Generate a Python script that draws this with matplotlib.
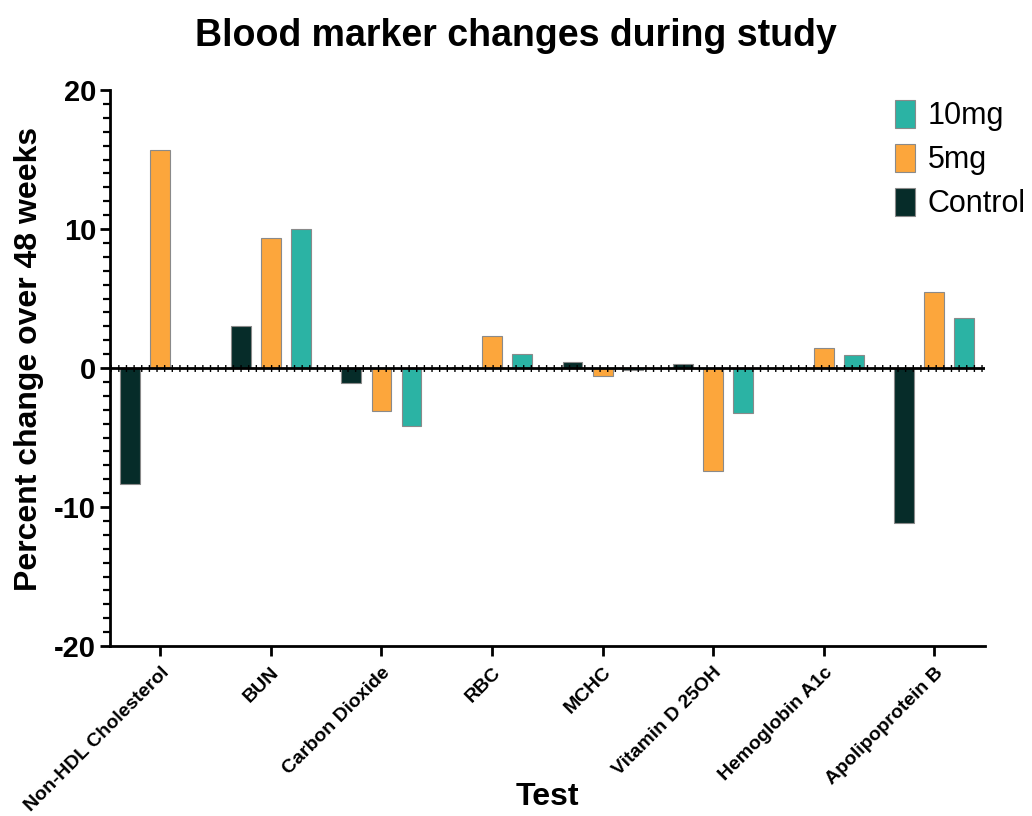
import numpy as np
import matplotlib
matplotlib.use("Agg")
from matplotlib import pyplot as plt
from matplotlib.ticker import MultipleLocator

plt.rcParams['font.family'] = ['Liberation Sans', 'DejaVu Sans']

tests = ["Non-HDL Cholesterol", "BUN", "Carbon Dioxide", "RBC", "MCHC",
         "Vitamin D 25OH", "Hemoglobin A1c", "Apolipoprotein B"]
control = [-8.35, 3.0, -1.1, 0.1, 0.4, 0.3, 0.0, -11.15]
mg5 = [15.7, 9.35, -3.1, 2.3, -0.55, -7.4, 1.42, 5.45]
mg10 = [0.0, 10.0, -4.2, 1.0, -0.15, -3.26, 0.94, 3.62]

c_control = "#062c29"
c_5 = "#fca63c"
c_10 = "#2bb3a4"

fig = plt.figure(figsize=(10.32, 8.16), dpi=100)
ax = fig.add_axes([0.1066, 0.2083, 0.848, 0.6814])

x = np.arange(len(tests))
w = 0.18
off = 0.272
b1 = ax.bar(x - off, control, w, color=c_control, edgecolor="#8a8a8a", linewidth=0.8, label="Control", zorder=2)
b2 = ax.bar(x, mg5, w, color=c_5, edgecolor="#8a8a8a", linewidth=0.8, label="5mg", zorder=2)
b3 = ax.bar(x + off, mg10, w, color=c_10, edgecolor="#8a8a8a", linewidth=0.8, label="10mg", zorder=2)

# zero line with little tick marks
ax.axhline(0, color="black", lw=2.0, zorder=3)
ax.axhline(0, color="black", lw=5, linestyle=(0, (0.2, 0.9)), zorder=3)

ax.set_xlim(-0.455, 7.46)
ax.set_ylim(-20, 20)
ax.yaxis.set_minor_locator(MultipleLocator(1))
ax.set_yticks([-20, -10, 0, 10, 20])
ax.set_yticklabels(["-20", "-10", "0", "10", "20"], fontsize=21, fontweight="bold")
ax.set_xticks(x)
ax.set_xticklabels(tests, rotation=45, ha="right", rotation_mode="anchor", fontsize=14, fontweight="bold")

for s in ["top", "right"]:
    ax.spines[s].set_visible(False)
for s in ["left", "bottom"]:
    ax.spines[s].set_linewidth(2.0)
ax.tick_params(axis="both", which="major", length=7, width=2.0, pad=3)
ax.tick_params(axis="y", which="minor", length=5, width=1.6)
ax.tick_params(axis="x", pad=6)

ax.set_ylabel("Percent change over 48 weeks", fontsize=23, fontweight="bold")
ax.yaxis.set_label_coords(-0.076, 0.516)
ax.set_xlabel("Test", fontsize=23, fontweight="bold")
ax.xaxis.set_label_coords(0.5, -0.245)
fig.suptitle("Blood marker changes during study", fontsize=27, fontweight="bold", y=0.978)

leg = fig.legend(handles=[b3, b2, b1], labels=["10mg", "5mg", "Control"],
                 loc="upper left", bbox_to_anchor=(0.855, 0.892), frameon=False,
                 fontsize=22, handlelength=0.68, handleheight=1.0,
                 labelspacing=0.42, handletextpad=0.4, borderaxespad=0)

fig.savefig("out.png", dpi=100)
